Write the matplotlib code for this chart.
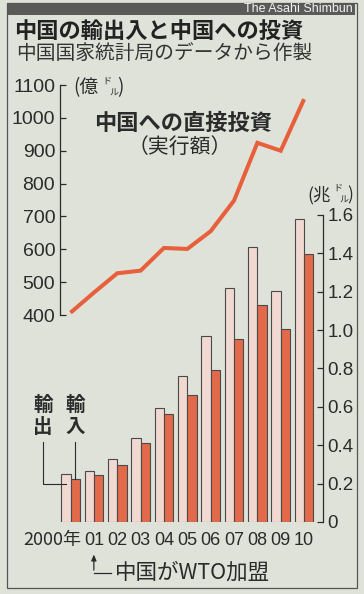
"""
China trade (exports / imports) and direct investment, 2000-2010.
"""

import matplotlib
matplotlib.use("Agg")
import matplotlib.pyplot as plt
from matplotlib.patches import Rectangle
import numpy as np

# Data
years = ["2000年", "01", "02", "03", "04", "05", "06", "07", "08", "09", "10"]
exports = [0.249, 0.266, 0.326, 0.438, 0.593, 0.762, 0.969, 1.218, 1.431, 1.202, 1.578]  # 兆ドル
imports = [0.225, 0.244, 0.295, 0.413, 0.561, 0.660, 0.792, 0.956, 1.133, 1.006, 1.396]  # 兆ドル
fdi = [407, 468, 527, 535, 604, 601, 655, 748, 924, 900, 1057]  # 億ドル

left_ticks = [400, 500, 600, 700, 800, 900, 1000, 1100]
right_ticks = [0, 0.2, 0.4, 0.6, 0.8, 1.0, 1.2, 1.4, 1.6]
right_labels = ["0", "0.2", "0.4", "0.6", "0.8", "1.0", "1.2", "1.4", "1.6"]

# Colours
bg = "#dfe2d9"
ink = "#2b2b2b"
export_col = "#f1d8d1"
import_col = "#e2694a"
line_col = "#e8603b"

JP = ["Noto Sans CJK JP", "DejaVu Sans"]
NUM = ["Liberation Sans", "DejaVu Sans"]
NUM_N = ["Liberation Sans Narrow", "Liberation Sans", "DejaVu Sans"]

W, H = 364, 594
fig = plt.figure(figsize=(W / 100, H / 100), dpi=100)
fig.patch.set_facecolor(bg)


def fx(x):
    return x / W


def fy(y):
    return 1 - y / H


# axes in pixel layout: left spine at 60, right spine at 323, base at 522, top at 85
ax = fig.add_axes([fx(60), fy(522), (323 - 60) / W, (522 - 85) / H])
ax.set_facecolor("none")
ax2 = ax.twinx()
ax2.set_facecolor("none")

x = np.arange(len(years))
bw = 0.4
ax.bar(x - bw / 2, exports, bw, color=export_col, edgecolor="#4a4a4a", linewidth=0.8)
ax.bar(x + bw / 2, imports, bw, color=import_col, edgecolor="#4a4a4a", linewidth=0.8)

ax.set_xlim(-0.45, 10.81)
ax.set_ylim(0, 2.277)
ax2.set_ylim(-230, 1100)

ax2.plot(x, fdi, color=line_col, linewidth=2.9, solid_joinstyle="miter", solid_capstyle="butt")

for a in (ax, ax2):
    a.spines["top"].set_visible(False)
    a.spines["bottom"].set_visible(False)
    a.set_xticks([])

# right axis (trade, 兆ドル)
ax.spines["left"].set_visible(False)
ax.spines["right"].set_bounds(0, 1.6)
ax.spines["right"].set_color(ink)
ax.spines["right"].set_linewidth(0.9)
ax.yaxis.tick_right()
ax.set_yticks(right_ticks)
ax.set_yticklabels(right_labels, fontfamily=NUM, fontsize=13.5, color=ink)
ax.tick_params(axis="y", direction="in", length=4.5, width=0.9, color=ink, pad=3)

# left axis (investment, 億ドル)
ax2.spines["right"].set_visible(False)
ax2.spines["left"].set_visible(True)
ax2.spines["left"].set_bounds(400, 1100)
ax2.spines["left"].set_color(ink)
ax2.spines["left"].set_linewidth(0.9)
ax2.yaxis.set_ticks_position("left")
ax2.yaxis.set_label_position("left")
ax2.set_yticks(left_ticks)
ax2.set_yticklabels([str(v) for v in left_ticks], fontfamily=NUM, fontsize=14, color=ink)
ax2.tick_params(axis="y", direction="in", length=4.5, width=0.9, color=ink, pad=3.5)

# year labels
for i, lab in enumerate(years):
    if i == 0:
        ax.text(i + bw + 0.05, -0.095, lab, ha="right", va="center", fontsize=13,
                family=["Liberation Sans Narrow", "Noto Sans CJK JP"], color=ink, clip_on=False)
    else:
        ax.text(i, -0.095, lab, ha="center", va="center", fontsize=13,
                family=NUM_N, color=ink, clip_on=False)

# WTO annotation
ax.annotate("", xy=(1, -0.155), xytext=(1, -0.265), xycoords="data",
            arrowprops=dict(arrowstyle="-|>,head_length=0.35,head_width=0.15", color=ink, lw=0.9),
            annotation_clip=False)
ax.plot([1, 1.72], [-0.265, -0.265], color=ink, lw=0.9, clip_on=False)
ax.text(1.92, -0.265, "中国がWTO加盟", ha="left", va="center", fontsize=15.5,
        family=JP, color=ink, clip_on=False)

# export / import leaders
ax.plot([-1.18, -1.18, -0.2], [0.415, 0.2, 0.2], color=ink, lw=0.8, clip_on=False)
ax.plot([0.2, 0.2], [0.415, imports[0]], color=ink, lw=0.8, clip_on=False)
ax.text(-1.18, 0.55, "輸\n出", ha="center", va="center", fontsize=14, fontweight="bold",
        family=JP, color=ink, linespacing=1.2, clip_on=False)
ax.text(0.2, 0.55, "輸\n入", ha="center", va="center", fontsize=14, fontweight="bold",
        family=JP, color=ink, linespacing=1.2, clip_on=False)

# line label
fig.text(fx(183), fy(123), "中国への直接投資", ha="center", va="center", fontsize=16,
         fontweight="bold", family=JP, color=ink)
fig.text(fx(180), fy(147), "（実行額）", ha="center", va="center", fontsize=15,
         family=JP, color=ink)

# unit labels
fig.text(fx(73), fy(88), "(億", ha="left", va="center", fontsize=13.5, family=JP, color=ink)
fig.text(fx(102), fy(81), "ド", ha="left", va="center", fontsize=6.5, family=JP, color=ink)
fig.text(fx(109), fy(93), "ル", ha="left", va="center", fontsize=6.5, family=JP, color=ink)
fig.text(fx(117), fy(88), ")", ha="left", va="center", fontsize=13.5, family=JP, color=ink)

fig.text(fx(307), fy(195), "(兆", ha="left", va="center", fontsize=12.5, family=JP, color=ink)
fig.text(fx(333), fy(188), "ド", ha="left", va="center", fontsize=6.5, family=JP, color=ink)
fig.text(fx(339), fy(200), "ル", ha="left", va="center", fontsize=6.5, family=JP, color=ink)
fig.text(fx(347), fy(195), ")", ha="left", va="center", fontsize=12.5, family=JP, color=ink)

# titles
fig.text(fx(14), fy(31), "中国の輸出入と中国への投資", ha="left", va="center", fontsize=16,
         fontweight="bold", family=JP, color="#222222")
fig.text(fx(16), fy(53), "中国国家統計局のデータから作製", ha="left", va="center", fontsize=14.2,
         family=JP, color="#333333")

# header band and frame
fig.patches.append(Rectangle((fx(7), fy(15)), (355 - 7) / W, 12 / H, transform=fig.transFigure,
                             facecolor="#5a5a58", edgecolor="none"))
fig.text(fx(353), fy(9.5), "The Asahi Shimbun", ha="right", va="center", fontsize=9,
         family=NUM, color="#f2f2f2")
fig.patches.append(Rectangle((fx(7), fy(588)), (357 - 7) / W, (588 - 3) / H, transform=fig.transFigure,
                             facecolor="none", edgecolor="#555555", linewidth=0.9))

fig.savefig("out.png", dpi=100, facecolor=bg)
